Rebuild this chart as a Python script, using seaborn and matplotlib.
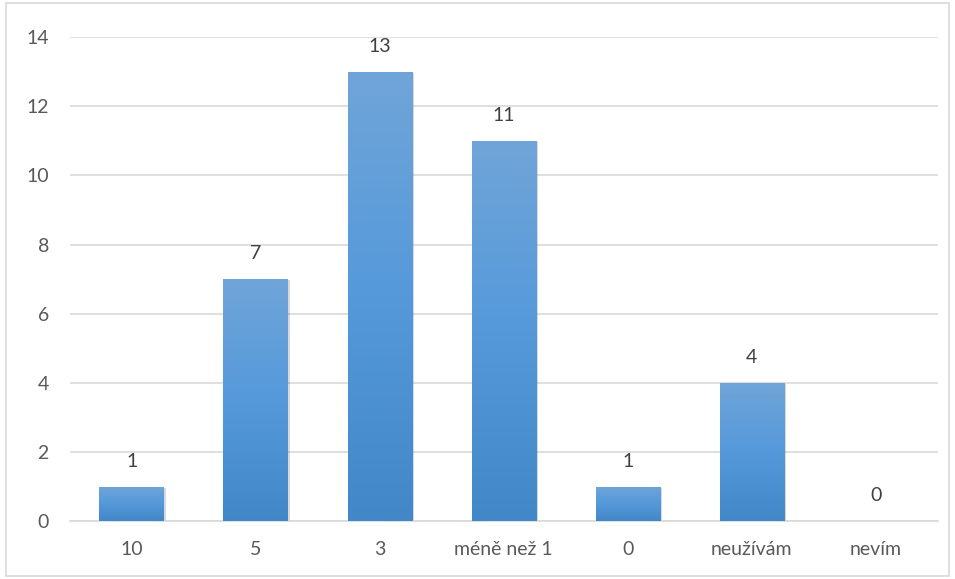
import matplotlib
matplotlib.use('Agg')
import matplotlib.pyplot as plt
from matplotlib.colors import LinearSegmentedColormap
from matplotlib.patches import Rectangle
import seaborn as sns
import numpy as np
import pandas as pd

# DATA
categories = ['10', '5', '3', 'méně než 1', '0', 'neužívám', 'nevím']
values = [1, 7, 13, 11, 1, 4, 0]
y_ticks = [0, 2, 4, 6, 8, 10, 12, 14]

df = pd.DataFrame({'kategorie': categories, 'pocet': values})

sns.set_theme(style='white')
plt.rcParams['font.family'] = ['Lato', 'DejaVu Sans']

fig = plt.figure(figsize=(9.55, 5.79), dpi=100)
ax = fig.add_axes([0.073, 0.100, 0.909, 0.836])

sns.barplot(data=df, x='kategorie', y='pocet', color='#5599db', width=0.52,
            ax=ax, zorder=3)

ax.set_ylim(0, 14)
ax.set_xlim(-0.5, len(categories) - 0.5)
ax.set_yticks(y_ticks)
ax.yaxis.grid(True, color='#d9d9d9', linewidth=1.2, zorder=0)
ax.set_axisbelow(True)
for s in ['top', 'right', 'left']:
    ax.spines[s].set_visible(False)
ax.spines['bottom'].set_color('#d9d9d9')
ax.spines['bottom'].set_linewidth(1.2)
ax.set_xlabel('')
ax.set_ylabel('')
ax.tick_params(axis='both', length=0, labelsize=14, labelcolor='#595959')
ax.tick_params(axis='y', pad=15)
ax.tick_params(axis='x', pad=14)

# GRADIENT FILL + SHADOW
cmap = LinearSegmentedColormap.from_list('bar', ['#4287c8', '#5599db', '#70a5d8'])
grad = np.linspace(0, 1, 256).reshape(-1, 1)
for p in ax.patches:
    h = p.get_height()
    if h <= 0:
        p.set_visible(False)
        continue
    x0, w = p.get_x(), p.get_width()
    shadow = Rectangle((x0 + 0.015, 0), w, h - 0.03, facecolor='#000000', alpha=0.15,
                       edgecolor='none', zorder=2)
    ax.add_patch(shadow)
    im = ax.imshow(grad, cmap=cmap, origin='lower', aspect='auto',
                   extent=[x0, x0 + w, 0, h], zorder=3.5)
    im.set_clip_path(p)
    p.set_edgecolor('none')

# DATA LABELS
for i, v in enumerate(values):
    ax.annotate(str(v), (i, v), xytext=(0, 12), textcoords='offset points',
                ha='center', va='bottom', fontsize=14, color='#404040')

# BORDER
fig.patches.append(Rectangle((0.006, 0.006), 0.988, 0.988, transform=fig.transFigure,
                             fill=False, edgecolor='#d9d9d9', linewidth=1.2))

fig.savefig('out.png', dpi=100)
